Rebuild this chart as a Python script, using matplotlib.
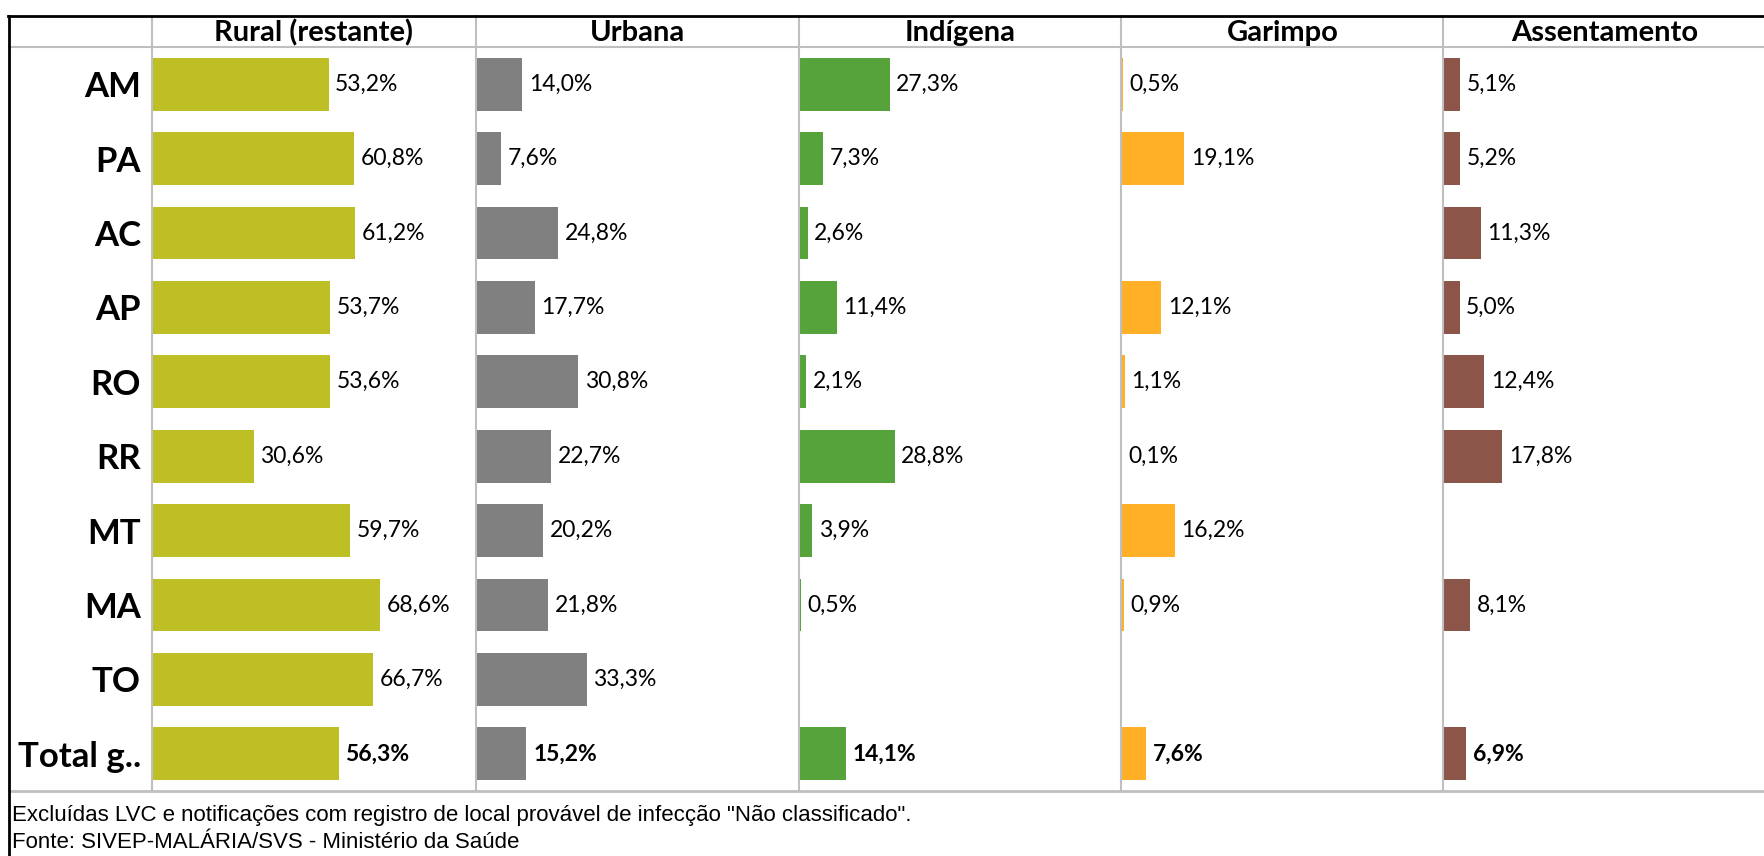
import matplotlib
matplotlib.use("Agg")
from matplotlib import pyplot as plt
from matplotlib.lines import Line2D

states = ["AM", "PA", "AC", "AP", "RO", "RR", "MT", "MA", "TO", "Total g.."]
columns = ["Rural (restante)", "Urbana", "Indígena", "Garimpo", "Assentamento"]

rural = [53.2, 60.8, 61.2, 53.7, 53.6, 30.6, 59.7, 68.6, 66.7, 56.3]
urbana = [14.0, 7.6, 24.8, 17.7, 30.8, 22.7, 20.2, 21.8, 33.3, 15.2]
indigena = [27.3, 7.3, 2.6, 11.4, 2.1, 28.8, 3.9, 0.5, None, 14.1]
garimpo = [0.5, 19.1, None, 12.1, 1.1, 0.1, 16.2, 0.9, None, 7.6]
assentamento = [5.1, 5.2, 11.3, 5.0, 12.4, 17.8, None, 8.1, None, 6.9]

series = [rural, urbana, indigena, garimpo, assentamento]
colors = ["#BDBF24", "#808080", "#55A33A", "#FFB026", "#8B5549"]

footer = [
    'Excluídas LVC e notificações com registro de local provável de infecção "Não classificado".',
    "Fonte: SIVEP-MALÁRIA/SVS - Ministério da Saúde",
]

W, H = 1764, 856
fig = plt.figure(figsize=(W / 100, H / 100), dpi=100)
fig.patch.set_facecolor("white")

label_font = ["Lato", "DejaVu Sans"]
grey = "#BFBFBF"

top_px, header_px, bottom_px = 16, 47, 791
col_left = [152, 476, 799, 1121, 1443]
col_w = 323


def fx(px):
    return px / W


def fy(py):
    return 1 - py / H


ypos = list(range(len(states)))
for i, (name, vals, c) in enumerate(zip(columns, series, colors)):
    ax = fig.add_axes([fx(col_left[i]), fy(bottom_px), fx(col_w), (bottom_px - header_px) / H])
    for y, v in zip(ypos, vals):
        if v is None:
            continue
        ax.barh(y, v, height=0.71, color=c, left=0)
        bold = states[y].startswith("Total")
        ax.text(v + 2.0, y, f"{v:.1f}%".replace(".", ","), va="center", ha="left",
                fontsize=16.5, family=label_font, fontweight="bold" if bold else "normal")
    ax.set_xlim(0, 97.3)
    ax.set_ylim(len(states) - 0.5, -0.5)
    ax.set_xticks([])
    for s in ax.spines.values():
        s.set_visible(False)
    if i == 0:
        ax.set_yticks(ypos)
        ax.set_yticklabels(states, fontsize=25, fontweight="bold", family=label_font)
        ax.tick_params(axis="y", length=0, pad=8)
    else:
        ax.set_yticks([])
    fig.text(fx(col_left[i] + col_w / 2), fy(33), name, ha="center", va="center",
             fontsize=21, fontweight="bold", family=label_font)
    # column divider
    fig.add_artist(Line2D([fx(col_left[i])] * 2, [fy(top_px), fy(bottom_px)], color=grey, lw=1.5))

# header and bottom separators
fig.add_artist(Line2D([fx(9), 1], [fy(header_px)] * 2, color=grey, lw=1.5))
fig.add_artist(Line2D([fx(9), 1], [fy(bottom_px)] * 2, color=grey, lw=2))
# outer black border
fig.add_artist(Line2D([fx(8), 1], [fy(top_px)] * 2, color="black", lw=2))
fig.add_artist(Line2D([fx(9)] * 2, [fy(top_px), 0], color="black", lw=2))

fig.text(fx(12), fy(816), footer[0], ha="left", va="center", fontsize=16, family="Liberation Sans")
fig.text(fx(12), fy(843), footer[1], ha="left", va="center", fontsize=16, family="Liberation Sans")

fig.savefig("out.png", dpi=100)
